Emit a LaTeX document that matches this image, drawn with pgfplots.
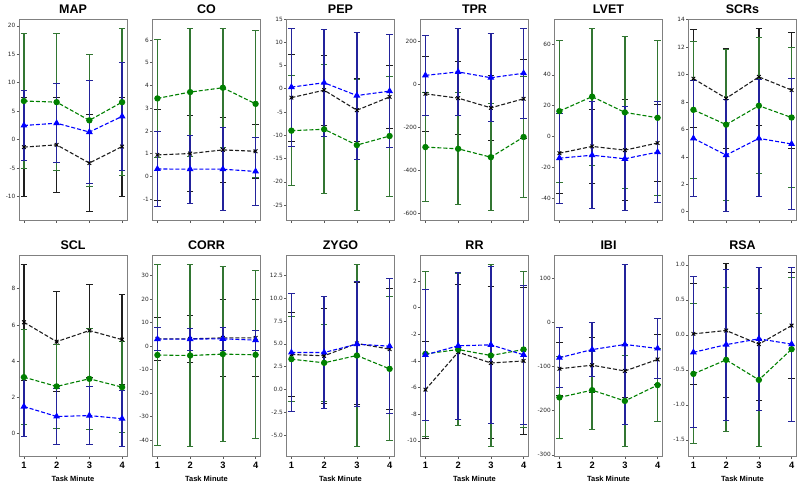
\documentclass[border=0pt]{standalone}
\usepackage{fontspec}
\setmainfont{Liberation Sans}
\newfontfamily\tickfont{DejaVu Sans}
\usepackage{pgfplots}
\pgfplotsset{compat=1.18}

\definecolor{cG}{RGB}{0,128,0}
\definecolor{cB}{RGB}{0,0,255}
\definecolor{barK}{RGB}{30,30,30}
\definecolor{barG}{RGB}{50,118,50}
\definecolor{barB}{RGB}{35,35,155}

\pgfplotsset{
  panel/.style={scale only axis, width=108pt, height=201pt, anchor=north west,
    xmin=0.85, xmax=4.15, xtick={1,2,3,4},
    axis line style={gray, line width=1pt},
    tick align=outside, tick style={gray!70!black, line width=0.6pt},
    major tick length=2.5pt, xtick pos=bottom, ytick pos=left,
    /pgf/number format/assume math mode=true,
    yticklabel style={font=\tickfont\fontsize{5.8}{6.5}\selectfont, text=black!85, inner sep=1pt},
    every axis title shift=0pt,
    title style={font=\bfseries\fontsize{12.5}{14}\selectfont, at={(0.5,1)}, anchor=base, yshift=5.5pt, inner sep=0pt},
    clip=false},
  toprow/.style={panel, xticklabels={}},
  botrow/.style={panel,
    xticklabel style={font=\bfseries\fontsize{9.3}{10}\selectfont, text=black},
    xlabel={Task Minute},
    xlabel style={font=\bfseries\fontsize{7.5}{9}\selectfont, yshift=-1pt}},
  dec1/.style={yticklabel style={/pgf/number format/.cd, fixed, fixed zerofill, precision=1}},
  sK/.style={barK, dashed, dash pattern=on 4pt off 2pt, line width=1.1pt, mark=x, mark size=2.6pt,
    mark options={solid, black, line width=0.9pt},
    error bars/.cd, y dir=both, y explicit, error mark=-,
    error bar style={solid, line width=1.4pt, barK},
    error mark options={solid, rotate=90, line width=1pt, mark size=3.2pt, barK}},
  sG/.style={cG, dashed, dash pattern=on 4pt off 2pt, line width=1.1pt, mark=*, mark size=2.6pt,
    mark options={solid, cG},
    error bars/.cd, y dir=both, y explicit, error mark=-,
    error bar style={solid, line width=1.4pt, barG},
    error mark options={solid, rotate=90, line width=1pt, mark size=3.2pt, barG}},
  sB/.style={cB, dashed, dash pattern=on 4pt off 2pt, line width=1.1pt, mark=triangle*, mark size=2.9pt,
    mark options={solid, cB},
    error bars/.cd, y dir=both, y explicit, error mark=-,
    error bar style={solid, line width=1.4pt, barB},
    error mark options={solid, rotate=90, line width=1pt, mark size=3.2pt, barB}},
}

\begin{document}
\begin{tikzpicture}

% ---------- top row ----------
\begin{axis}[toprow, at={(19pt,-19pt)}, title={MAP}, ymin=-14.1, ymax=21.2, ytick={-10,-5,...,20}]
\addplot[sK] coordinates {(1,-1.3)+-(0,8.7) (2,-0.9)+-(0,8.3) (3,-4.1)+-(0,8.5) (4,-1.2)+-(0,8.7)};
\addplot[sG] coordinates {(1,6.8)+-(0,11.8) (2,6.6)+-(0,12.0) (3,3.4)+-(0,11.6) (4,6.6)+-(0,12.9)};
\addplot[sB] coordinates {(1,2.5)+-(0,6.2) (2,2.9)+-(0,6.9) (3,1.35)+-(0,9.05) (4,4.1)+-(0,9.5)};
\end{axis}

\begin{axis}[toprow, at={(152.5pt,-19pt)}, title={CO}, ymin=-1.93, ymax=6.93, ytick={-1,0,...,6}]
\addplot[sK] coordinates {(1,0.94)+-(0,1.99) (2,1.0)+-(0,1.68) (3,1.16)+-(0,1.44) (4,1.1)+-(0,1.18)};
\addplot[sG] coordinates {(1,3.43)+-(0,2.6) (2,3.71)+-(0,2.82) (3,3.9)+-(0,2.63) (4,3.19)+-(0,3.25)};
\addplot[sB] coordinates {(1,0.32)+-(0,1.67) (2,0.31)+-(0,1.5) (3,0.31)+-(0,1.84) (4,0.21)+-(0,1.5)};
\end{axis}

\begin{axis}[toprow, at={(286.5pt,-19pt)}, title={PEP}, ymin=-28.2, ymax=15.0, ytick={-25,-20,...,15}]
\addplot[sK] coordinates {(1,-1.9)+-(0,9.35) (2,-0.3)+-(0,7.5) (3,-4.6)+-(0,6.8) (4,-1.75)+-(0,6.8)};
\addplot[sG] coordinates {(1,-9.0)+-(0,11.8) (2,-8.7)+-(0,13.9) (3,-12.1)+-(0,14.1) (4,-10.15)+-(0,12.9)};
\addplot[sB] coordinates {(1,0.36)+-(0,12.7) (2,1.3)+-(0,11.45) (3,-1.45)+-(0,13.65) (4,-0.5)+-(0,12.1)};
\end{axis}

\begin{axis}[toprow, at={(420.5pt,-19pt)}, title={TPR}, ymin=-631.5, ymax=304.5, ytick={-600,-400,...,200}]
\addplot[sK] coordinates {(1,-44)+-(0,176) (2,-64)+-(0,170) (3,-109)+-(0,150) (4,-67)+-(0,183)};
\addplot[sG] coordinates {(1,-292)+-(0,252) (2,-300)+-(0,261) (3,-339)+-(0,250) (4,-245)+-(0,283)};
\addplot[sB] coordinates {(1,42)+-(0,188) (2,58)+-(0,204) (3,31)+-(0,205) (4,52)+-(0,210)};
\end{axis}

\begin{axis}[toprow, at={(554.5pt,-19pt)}, title={LVET}, ymin=-53.9, ymax=76.1, ytick={-40,-20,...,60}]
\addplot[sK] coordinates {(1,-10.7)+-(0,25.8) (2,-6.3)+-(0,23.9) (3,-8.7)+-(0,32.8) (4,-4.1)+-(0,24.6)};
\addplot[sG] coordinates {(1,16.5)+-(0,45.9) (2,25.9)+-(0,44.3) (3,15.7)+-(0,48.9) (4,12.2)+-(0,50.2)};
\addplot[sB] coordinates {(1,-13.9)+-(0,29.1) (2,-12.0)+-(0,34.5) (3,-14.3)+-(0,33.7) (4,-10.0)+-(0,32.6)};
\end{axis}

\begin{axis}[toprow, at={(688.5pt,-19pt)}, title={SCRs}, ymin=-0.6, ymax=14.05, ytick={0,2,...,14}]
\addplot[sK] coordinates {(1,9.7)+-(0,3.58) (2,8.27)+-(0,3.63) (3,9.83)+-(0,3.52) (4,8.87)+-(0,4.23)};
\addplot[sG] coordinates {(1,7.43)+-(0,4.97) (2,6.35)+-(0,5.5) (3,7.73)+-(0,4.97) (4,6.87)+-(0,5.13)};
\addplot[sB] coordinates {(1,5.35)+-(0,4.25) (2,4.13)+-(0,4.08) (3,5.35)+-(0,4.27) (4,4.94)+-(0,4.79)};
\end{axis}

% ---------- bottom row ----------
\begin{axis}[botrow, at={(19pt,-255pt)}, title={SCL}, ymin=-1.23, ymax=9.86, ytick={0,2,...,8}]
\addplot[sK] coordinates {(1,6.15)+-(0,3.21) (2,5.08)+-(0,2.77) (3,5.69)+-(0,2.57) (4,5.19)+-(0,2.48)};
\addplot[sG] coordinates {(1,3.12)+-(0,2.62) (2,2.61)+-(0,2.3) (3,3.03)+-(0,2.77) (4,2.57)+-(0,2.51)};
\addplot[sB] coordinates {(1,1.5)+-(0,1.68) (2,0.95)+-(0,1.55) (3,1.0)+-(0,1.59) (4,0.83)+-(0,1.56)};
\end{axis}

\begin{axis}[botrow, at={(152.5pt,-255pt)}, title={CORR}, ymin=-46.8, ymax=38.8, ytick={-40,-30,...,30}]
\addplot[sK] coordinates {(1,3.1)+-(0,9.3) (2,3.1)+-(0,9.95) (3,3.5)+-(0,16.25) (4,3.5)+-(0,16.35)};
\addplot[sG] coordinates {(1,-3.8)+-(0,38.6) (2,-4.0)+-(0,38.9) (3,-3.4)+-(0,37.4) (4,-3.7)+-(0,35.8)};
\addplot[sB] coordinates {(1,3.0)+-(0,4.9) (2,3.0)+-(0,4.66) (3,3.1)+-(0,4.8) (4,2.55)+-(0,4.25)};
\end{axis}

\begin{axis}[botrow, dec1, at={(286.5pt,-255pt)}, title={ZYGO}, ymin=-7.28, ymax=14.72, ytick={-5,-2.5,...,12.5}]
\addplot[sK] coordinates {(1,3.83)+-(0,4.6) (2,3.69)+-(0,5.18) (3,5.04)+-(0,6.66) (4,4.42)+-(0,6.64)};
\addplot[sG] coordinates {(1,3.32)+-(0,4.64) (2,2.92)+-(0,4.23) (3,3.72)+-(0,10.0) (4,2.26)+-(0,7.89)};
\addplot[sB] coordinates {(1,4.05)+-(0,6.45) (2,4.05)+-(0,6.15) (3,4.96)+-(0,6.84) (4,4.74)+-(0,7.36)};
\end{axis}

\begin{axis}[botrow, at={(420.5pt,-255pt)}, title={RR}, ymin=-11.14, ymax=3.96, ytick={-10,-8,...,2}]
\addplot[sK] coordinates {(1,-6.16)+-(0,3.63) (2,-3.34)+-(0,5.07) (3,-4.15)+-(0,5.71) (4,-4.0)+-(0,5.55)};
\addplot[sG] coordinates {(1,-3.47)+-(0,6.17) (2,-3.14)+-(0,5.73) (3,-3.59)+-(0,6.86) (4,-3.14)+-(0,5.85)};
\addplot[sB] coordinates {(1,-3.54)+-(0,4.9) (2,-2.86)+-(0,5.5) (3,-2.79)+-(0,5.9) (4,-3.54)+-(0,5.2)};
\end{axis}

\begin{axis}[botrow, at={(554.5pt,-255pt)}, title={IBI}, ymin=-302.7, ymax=152.7, ytick={-300,-200,...,100}]
\addplot[sK] coordinates {(1,-105)+-(0,60) (2,-97)+-(0,62) (3,-110)+-(0,60) (4,-84)+-(0,56)};
\addplot[sG] coordinates {(1,-170)+-(0,93) (2,-153.5)+-(0,88.5) (3,-178)+-(0,104) (4,-142)+-(0,83)};
\addplot[sB] coordinates {(1,-80)+-(0,68) (2,-61.6)+-(0,62) (3,-50)+-(0,182) (4,-59)+-(0,67)};
\end{axis}

\begin{axis}[botrow, dec1, at={(688.5pt,-255pt)}, title={RSA}, ymin=-1.73, ymax=1.14, ytick={-1.5,-1,...,1}]
\addplot[sK] coordinates {(1,0.014)+-(0,0.72) (2,0.062)+-(0,0.95) (3,-0.133)+-(0,0.8) (4,0.133)+-(0,0.757)};
\addplot[sG] coordinates {(1,-0.557)+-(0,1.0) (2,-0.357)+-(0,1.03) (3,-0.643)+-(0,0.953) (4,-0.205)+-(0,1.03)};
\addplot[sB] coordinates {(1,-0.25)+-(0,1.08) (2,-0.14)+-(0,1.08) (3,-0.057)+-(0,1.02) (4,-0.133)+-(0,1.1)};
\end{axis}

\pgfresetboundingbox
\path[use as bounding box] (0,0) rectangle (800pt,-488pt);
\end{tikzpicture}
\end{document}
